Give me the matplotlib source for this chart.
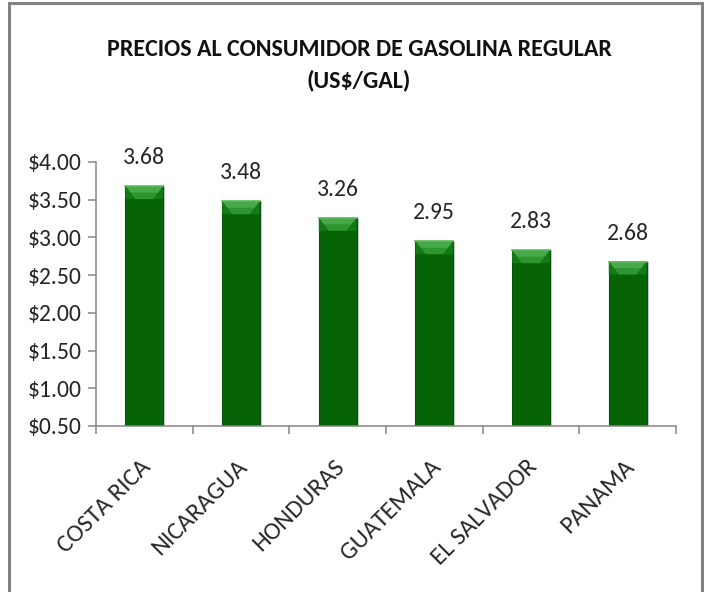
import matplotlib
matplotlib.use("Agg")
import matplotlib.pyplot as plt
from matplotlib.patches import Polygon, Rectangle
from matplotlib.ticker import FixedLocator, FuncFormatter
import numpy as np

# data
countries = ["COSTA RICA", "NICARAGUA", "HONDURAS", "GUATEMALA", "EL SALVADOR", "PANAMA"]
prices = [3.68, 3.48, 3.26, 2.95, 2.83, 2.68]
yticks = [0.5, 1.0, 1.5, 2.0, 2.5, 3.0, 3.5, 4.0]
title = "PRECIOS AL CONSUMIDOR DE GASOLINA REGULAR\n(US$/GAL)"

plt.rcParams["font.family"] = ["Carlito", "DejaVu Sans"]

W, H = 707, 592
fig = plt.figure(figsize=(W / 100, H / 100), dpi=100)
ax = fig.add_axes([96 / W, 1 - 426 / H, (676 - 96) / W, (426 - 162) / H])

# outer chart frame
fig.patches.append(Rectangle((9 / W, -0.02), (702 - 9) / W, 1.02 - 3 / H,
                             transform=fig.transFigure, fill=False,
                             edgecolor="#828282", linewidth=2.2))

x = np.arange(len(countries))
bw = 0.39
ax.set_xlim(-0.5, len(countries) - 0.5)
ax.set_ylim(0.5, 4.0)

# soft shadow on the right side of each bar
ax.bar(x + 0.022, np.array(prices) - 0.5, bottom=0.5, width=bw, color="#cfcfcf",
       edgecolor="none", zorder=1)
bars = ax.bar(x, np.array(prices) - 0.5, bottom=0.5, width=bw, color="#066407",
              edgecolor="#0a520a", linewidth=0.8, zorder=2)

# bevel on top of each bar
px_per_unit = (ax.transData.transform((0, 1)) - ax.transData.transform((0, 0)))[1]
bev = 13 / px_per_unit
for b in bars:
    x0, w, top = b.get_x(), b.get_width(), b.get_y() + b.get_height()
    ax.add_patch(Polygon([(x0, top), (x0 + w, top), (x0 + 0.74 * w, top - bev),
                          (x0 + 0.26 * w, top - bev)],
                         closed=True, facecolor="#2f9530", edgecolor="none", zorder=3))
    ax.add_patch(Polygon([(x0, top), (x0 + w, top), (x0 + 0.87 * w, top - bev / 2),
                          (x0 + 0.13 * w, top - bev / 2)],
                         closed=True, facecolor="#46a846", edgecolor="none", zorder=3))
    ax.add_patch(Polygon([(x0, top), (x0 + 0.26 * w, top - bev), (x0, top - bev)],
                         closed=True, facecolor="#137a15", edgecolor="none", zorder=3))
    ax.add_patch(Polygon([(x0 + w, top), (x0 + 0.74 * w, top - bev), (x0 + w, top - bev)],
                         closed=True, facecolor="#137a15", edgecolor="none", zorder=3))
    ax.plot([x0, x0 + w], [top, top], color="#5dbb5d", linewidth=1.2, zorder=4)

for xi, v in zip(x, prices):
    ax.annotate(f"{v:.2f}", (xi, v), xytext=(0, 20.5), textcoords="offset points",
                ha="center", va="center", fontsize=17, color="#262626")

# axes styling
for s in ["top", "right"]:
    ax.spines[s].set_visible(False)
for s in ["left", "bottom"]:
    ax.spines[s].set_color("#868686")
    ax.spines[s].set_linewidth(1.1)

ax.set_yticks(yticks)
ax.yaxis.set_major_formatter(FuncFormatter(lambda v, p: f"${v:.2f}"))
ax.tick_params(axis="y", direction="out", length=5.8, width=1.1, color="#868686",
               labelsize=17, labelcolor="#262626", pad=4.5)

ax.xaxis.set_major_locator(FixedLocator(np.arange(-0.5, len(countries), 1.0)))
ax.xaxis.set_major_formatter(FuncFormatter(lambda v, p: ""))
ax.xaxis.set_minor_locator(FixedLocator(x + 0.03))
ax.set_xticklabels(countries, minor=True, rotation=45, ha="right", va="center",
                   rotation_mode="anchor", fontsize=18, color="#262626")
ax.tick_params(axis="x", which="major", direction="out", length=5.8, width=1.1,
               color="#868686")
ax.tick_params(axis="x", which="minor", length=0, pad=27)

fig.text(0.508, 1 - 65 / H, title, ha="center", va="center", fontsize=17.3,
         fontweight="bold", color="#111111", linespacing=1.5)

fig.savefig("out.png", dpi=100)
